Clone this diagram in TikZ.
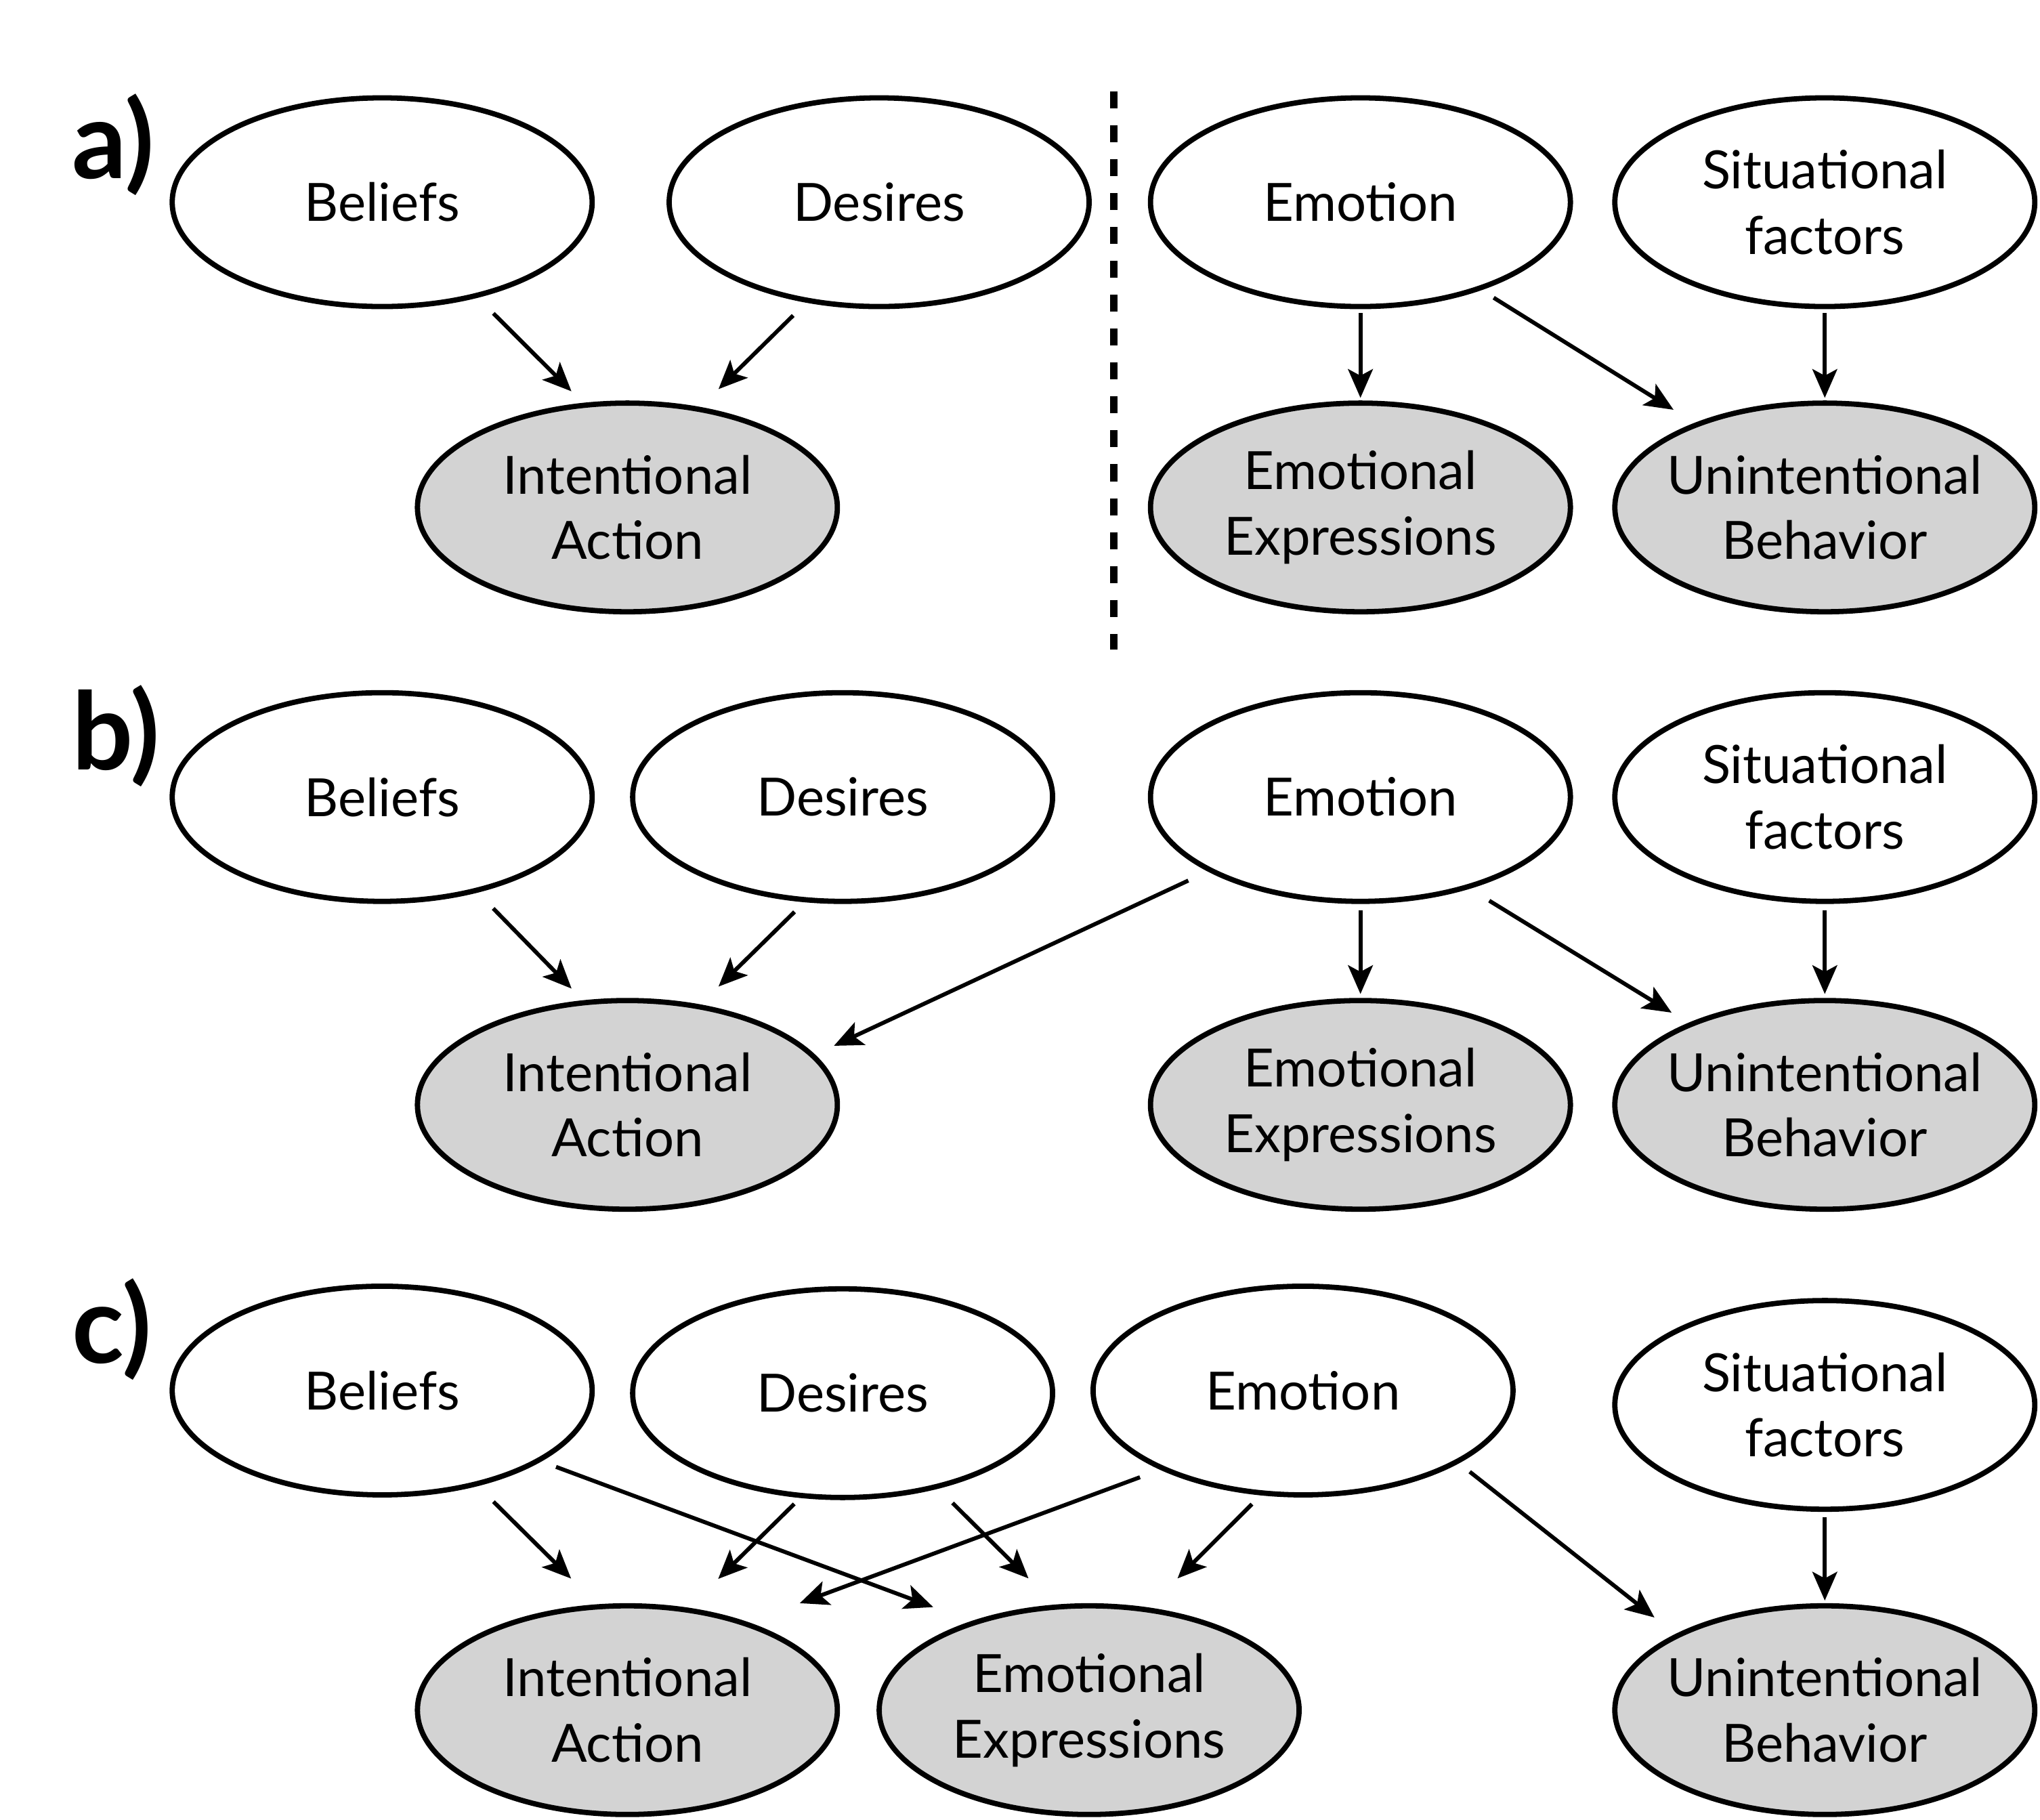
\documentclass[tikz,border=0pt]{standalone}
\usepackage{fontspec}
\usepackage{xcolor}
\usetikzlibrary{arrows.meta, shapes.geometric, positioning}
\newfontfamily\ellfamily{Lato}
\newcommand{\ellfont}{\ellfamily\fontsize{23}{28.5}\selectfont}
\newcommand{\rowfont}{\ellfamily\bfseries\fontsize{47}{47}\selectfont}
\definecolor{effectgray}{RGB}{211,211,211}
\tikzset{
  cause/.style={ellipse, draw, line width=2.3pt, fill=white,
    minimum width=6.44cm, minimum height=3.2cm,
    inner xsep=-0.3cm, inner ysep=0pt, align=center, font=\ellfont},
  effect/.style={cause, fill=effectgray},
  arr/.style={-{Stealth[length=0.44cm, width=0.38cm, inset=0.1cm]}, line width=1.75pt},
  separator/.style={line width=3.4pt, dash pattern=on 0.26cm off 0.26cm},
  rowlabel/.style={font=\rowfont, anchor=base west, inner sep=0pt}
}
\begin{document}
\begin{tikzpicture}[x=0.02cm, y=-0.02cm]
    \useasboundingbox (0,0) rectangle (1564,1395.2);

    \node[rowlabel] (lab_a) at (55,137) {a)};
    \node[rowlabel] (lab_b) at (55,590) {b)};
    \node[rowlabel] (lab_c) at (55,1045) {c)};

    \node[cause] (bel_a) at (293,155) {Beliefs};
    \node[cause] (des_a) at (674,155) {Desires};
    \node[cause] (emo_a) at (1043,155) {Emotion};
    \node[cause] (sit_a) at (1399,155) {Situational\\factors};
    \node[effect] (ia_a) at (481,389) {Intentional\\Action};
    \node[effect] (ee_a) at (1043,389) {Emotional\\Expressions};
    \node[effect] (ub_a) at (1399,389) {Unintentional\\Behavior};

    \coordinate (sep_top) at (854,70);
    \coordinate (sep_bot) at (854,498);
    \draw[separator] (sep_top) -- (sep_bot);

    \draw[arr, shorten <=0.34cm, shorten >=0.25cm] (bel_a.-45) -- (ia_a.113);
    \draw[arr, shorten <=0.28cm, shorten >=0.39cm] (des_a.-126) -- (ia_a.54);
    \draw[arr, shorten <=0.06cm, shorten >=0.04cm] (emo_a) -- (ee_a);
    \draw[arr, shorten <=0.22cm, shorten >=0.38cm] (emo_a.-36.6) -- (ub_a.147.4);
    \draw[arr, shorten <=0.06cm, shorten >=0.04cm] (sit_a) -- (ub_a);

    \node[cause] (bel_b) at (293,611) {Beliefs};
    \node[cause] (des_b) at (646,611) {Desires};
    \node[cause] (emo_b) at (1043,611) {Emotion};
    \node[cause] (sit_b) at (1399,611) {Situational\\factors};
    \node[effect] (ia_b) at (481,847) {Intentional\\Action};
    \node[effect] (ee_b) at (1043,847) {Emotional\\Expressions};
    \node[effect] (ub_b) at (1399,847) {Unintentional\\Behavior};

    \draw[arr, shorten <=0.34cm, shorten >=0.25cm] (bel_b.-45) -- (ia_b.113);
    \draw[arr, shorten <=0.21cm, shorten >=0.39cm] (des_b.-110.4) -- (ia_b.54.6);
    \draw[arr, shorten <=0.33cm, shorten >=0.32cm] (emo_b.-154.4) -- (ia_b.15.5);
    \draw[arr, shorten <=0.1cm, shorten >=0.06cm] (emo_b) -- (ee_b);
    \draw[arr, shorten <=0.35cm, shorten >=0.30cm] (emo_b.-40.1) -- (ub_b.149.2);
    \draw[arr, shorten <=0.1cm, shorten >=0.06cm] (sit_b) -- (ub_b);

    \node[cause] (bel_c) at (293,1066) {Beliefs};
    \node[cause] (des_c) at (646,1068) {Desires};
    \node[cause] (emo_c) at (999,1066) {Emotion};
    \node[cause] (sit_c) at (1399,1077) {Situational\\factors};
    \node[effect] (ia_c) at (481,1311) {Intentional\\Action};
    \node[effect] (ee_c) at (835,1311) {Emotional\\Expressions};
    \node[effect] (ub_c) at (1399,1311) {Unintentional\\Behavior};

    \draw[arr, shorten <=0.34cm, shorten >=0.56cm] (bel_c.-45) -- (ia_c.106.1);
    \draw[arr, shorten <=0.24cm, shorten >=0.62cm] (bel_c.-24) -- (ee_c.143.3);
    \draw[arr, shorten <=0.13cm, shorten >=0.63cm] (des_c.-112.2) -- (ia_c.59.5);
    \draw[arr, shorten <=0.31cm, shorten >=0.57cm] (des_c.-45) -- (ee_c.108);
    \draw[arr, shorten <=0.33cm, shorten >=0.84cm] (emo_c.-151.8) -- (ia_c.36.6);
    \draw[arr, shorten <=0.19cm, shorten >=0.63cm] (emo_c.-112.2) -- (ee_c.60);
    \draw[arr, shorten <=0.21cm, shorten >=0.41cm] (emo_c.-25.2) -- (ub_c.153.5);
    \draw[arr, shorten <=0.08cm, shorten >=0.04cm] (sit_c) -- (ub_c);

\end{tikzpicture}
\end{document}
